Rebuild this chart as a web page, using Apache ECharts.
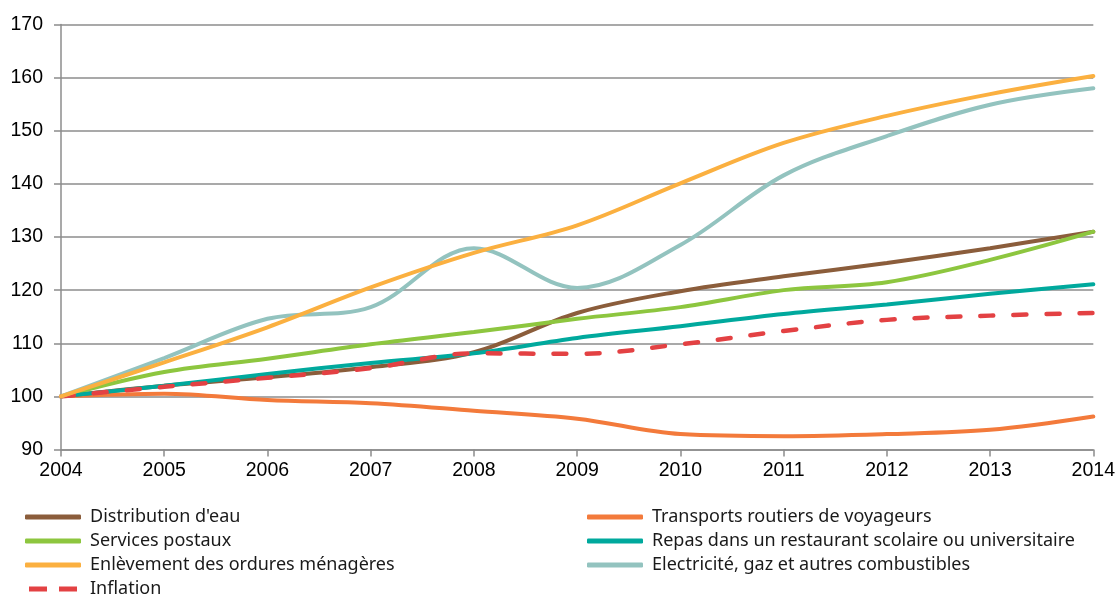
<!DOCTYPE html>
<html>
<head>
<meta charset="utf-8">
<script src="https://cdn.jsdelivr.net/npm/echarts@6/dist/echarts.min.js"></script>
<style>
  html, body { margin: 0; padding: 0; background: #fff; }
  #chart { width: 1118px; height: 596px; }
</style>
</head>
<body>
<div id="chart"></div>
<script>
// years on the x axis
let years = ['2004', '2005', '2006', '2007', '2008', '2009', '2010', '2011', '2012', '2013', '2014']

// index values, base 100 in 2004
let eau = [100, 102, 103.6, 105.5, 108.3, 115.7, 119.8, 122.6, 125.1, 127.9, 131]
let postaux = [100, 104.6, 107.1, 109.8, 112.1, 114.6, 116.8, 120, 121.5, 125.7, 131]
let ordures = [100, 106.4, 113, 120.5, 127, 132.2, 140.1, 147.7, 152.8, 156.9, 160.3]
let inflation = [100, 101.8, 103.5, 105.3, 108.1, 108, 109.8, 112.3, 114.4, 115.2, 115.7]
let transports = [100, 100.5, 99.3, 98.7, 97.3, 95.8, 92.9, 92.5, 92.9, 93.7, 96.2]
let repas = [100, 102, 104.2, 106.3, 108.1, 111, 113.2, 115.5, 117.3, 119.3, 121.1]
let electricite = [100, 107.2, 114.6, 116.8, 127.9, 120.4, 128.5, 141.6, 149, 154.9, 158]

let names = {
    eau: "Distribution d'eau",
    postaux: 'Services postaux',
    ordures: 'Enlèvement des ordures ménagères',
    inflation: 'Inflation',
    transports: 'Transports routiers de voyageurs',
    repas: 'Repas dans un restaurant scolaire ou universitaire',
    electricite: 'Electricité, gaz et autres combustibles'
}

let chart = echarts.init(document.getElementById('chart'))

function makeLine(name, data, color, dashed) {
    return {
        name: name,
        type: 'line',
        data: data,
        smooth: 0.35,
        showSymbol: false,
        symbol: 'none',
        itemStyle: { color: color },
        lineStyle: {
            color: color,
            width: dashed ? 4.5 : 4,
            type: dashed ? [13, 20] : 'solid',
            cap: 'round'
        },
        emphasis: { disabled: true }
    }
}

let legendText = {
    fontFamily: 'Noto Sans',
    fontSize: 18,
    color: '#1a1a1a',
    lineHeight: 18,
    padding: [0, 0, 0, 4]
}

let dashIcon = 'path://M0,0H18V5H0Z M30,0H48V5H30Z'

function legendBox(left, list) {
    return {
        orient: 'vertical',
        left: left,
        top: 508,
        height: 100,
        padding: 0,
        itemWidth: 56,
        itemHeight: 5,
        itemGap: 6,
        icon: 'roundRect',
        itemStyle: { borderWidth: 0 },
        textStyle: legendText,
        data: list
    }
}

let gridLine = { color: '#8c8c8c', width: 1.5 }

let chartOpt = {
    animation: false,
    grid: {
        left: 61,
        right: 24,
        top: 24.5,
        bottom: 146.5
    },
    xAxis: {
        type: 'category',
        data: years,
        boundaryGap: false,
        axisLine: { lineStyle: gridLine },
        axisTick: { show: true, length: 7, lineStyle: gridLine },
        axisLabel: {
            fontFamily: 'Liberation Sans',
            fontSize: 19.5,
            color: '#000',
            padding: [3, 0, 0, 0]
        },
        splitLine: { show: false }
    },
    yAxis: {
        type: 'value',
        min: 90,
        max: 170,
        interval: 10,
        axisLine: { show: true, lineStyle: gridLine },
        axisTick: { show: true, length: 7, lineStyle: gridLine },
        axisLabel: {
            fontFamily: 'Liberation Sans',
            fontSize: 19.5,
            color: '#000',
            padding: [0, 10, 0, 0]
        },
        splitLine: { show: true, lineStyle: gridLine }
    },
    legend: [
        legendBox(25, [names.eau, names.postaux, names.ordures, { name: names.inflation, icon: dashIcon }]),
        legendBox(587, [names.transports, names.repas, names.electricite])
    ],
    series: [
        makeLine(names.transports, transports, '#f37a3b'),
        makeLine(names.eau, eau, '#8b5d3b'),
        makeLine(names.postaux, postaux, '#8dc63f'),
        makeLine(names.repas, repas, '#00a99d'),
        makeLine(names.inflation, inflation, '#e34143', true),
        makeLine(names.electricite, electricite, '#93c3bf'),
        makeLine(names.ordures, ordures, '#fbb040')
    ]
}

chart.setOption(chartOpt)
</script>
</body>
</html>
